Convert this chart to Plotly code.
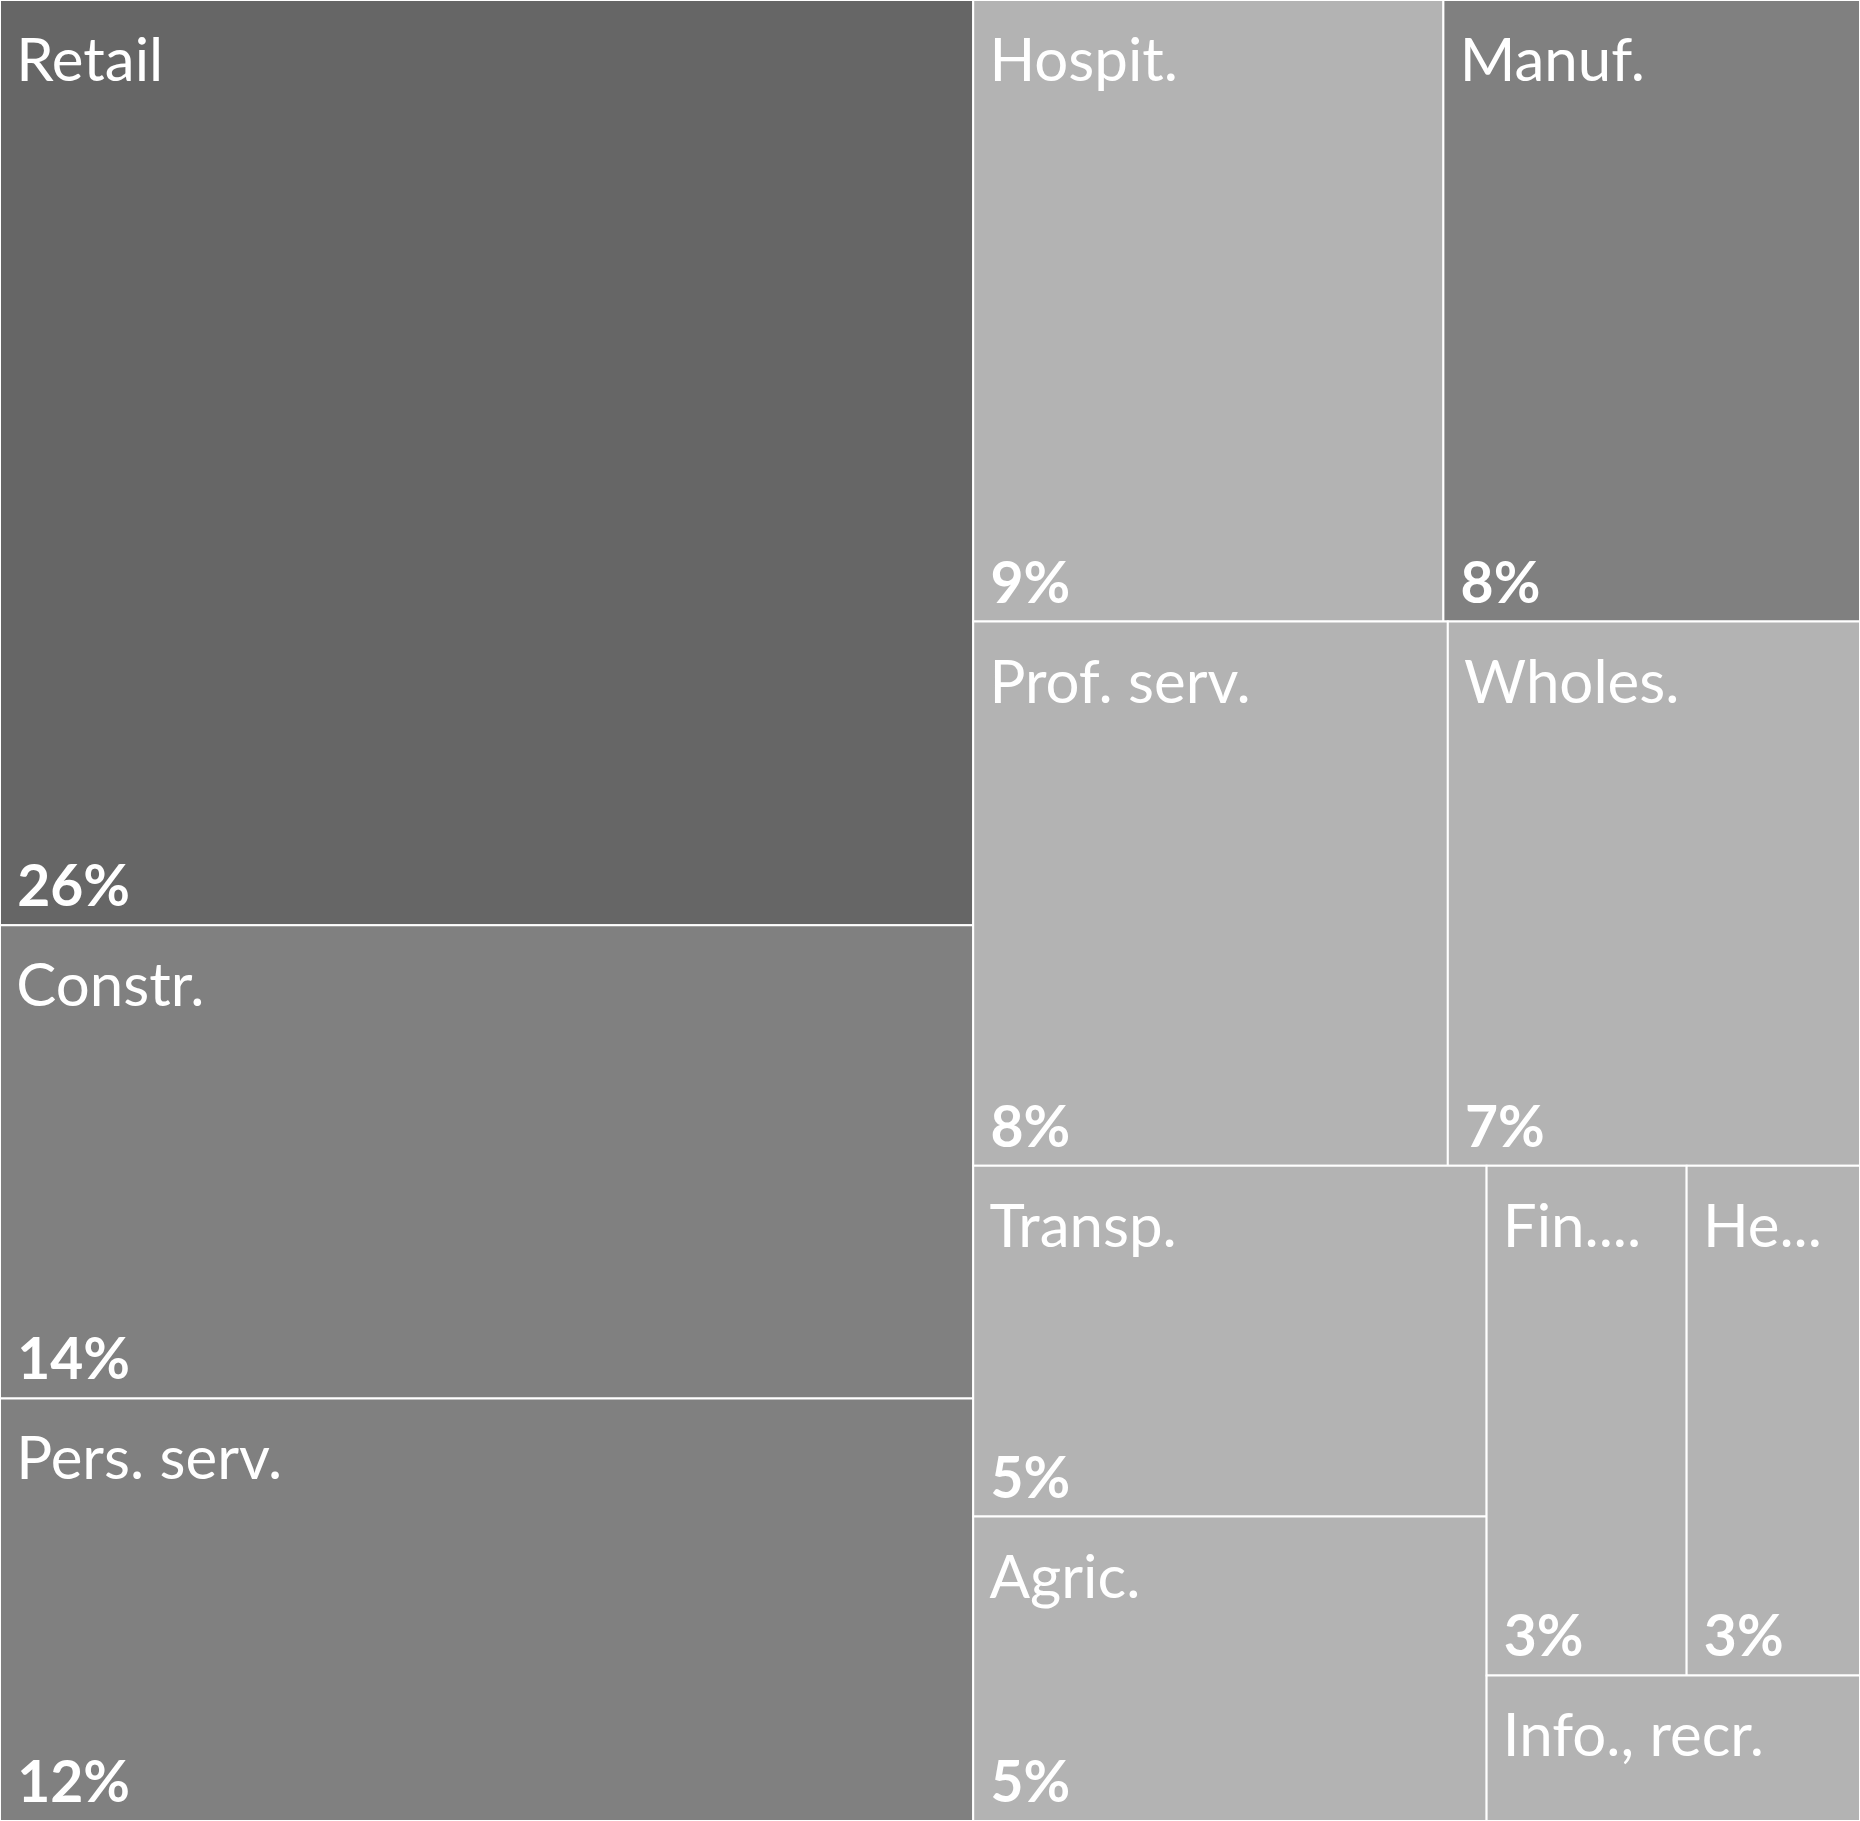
import plotly.graph_objects as go

# Data (shares)
categories = ["Retail", "Constr.", "Pers. serv.", "Hospit.", "Manuf.", "Prof. serv.",
              "Wholes.", "Transp.", "Agric.", "Fin....", "He...", "Info., recr."]
shares = [26.5, 13.55, 12.1, 8.6, 7.62, 7.6, 6.6, 5.3, 4.6, 3.0, 2.6, 1.6]
pct_labels = ["26%", "14%", "12%", "9%", "8%", "8%", "7%", "5%", "5%", "3%", "3%", ""]
colors = ["#666666", "#808080", "#808080", "#b3b3b3", "#808080", "#b3b3b3",
          "#b3b3b3", "#b3b3b3", "#b3b3b3", "#b3b3b3", "#b3b3b3", "#b3b3b3"]

parents = [""] * len(categories)
FONT = "Lato"
PHI = 1.618033988749895
NOPAD = dict(t=0, l=0, r=0, b=0)
NBSP = "\u00a0"

fig = go.Figure()
# category names, top-left of each tile
fig.add_trace(go.Treemap(
    labels=categories, parents=parents, values=shares,
    marker=dict(colors=colors, line=dict(color="white", width=2), pad=NOPAD),
    textposition="top left",
    texttemplate="<span style='font-size:79px;letter-spacing:-7px'>" + NBSP + "</span>%{label}",
    textfont=dict(family=FONT, size=60, color="white"),
    tiling=dict(packing="squarify", squarifyratio=PHI, pad=0),
    pathbar=dict(visible=False),
    hoverinfo="none", text=pct_labels,
    sort=True,
    domain=dict(x=[0, 1], y=[0, 1]),
))
# percentages, bottom-left of each tile
fig.add_trace(go.Treemap(
    labels=categories, parents=parents, values=shares,
    marker=dict(colors=["rgba(0,0,0,0)"] * len(categories), line=dict(width=0), pad=NOPAD),
    textposition="bottom left",
    text=pct_labels,
    texttemplate="<span style='font-size:75px;letter-spacing:-5px'>" + NBSP + "</span><b>%{text}</b>",
    textfont=dict(family=FONT, size=57, color="white"),
    tiling=dict(packing="squarify", squarifyratio=PHI, pad=0),
    pathbar=dict(visible=False),
    hoverinfo="none",
    sort=True,
    domain=dict(x=[0, 1], y=[0, 1]),
))
fig.update_layout(
    width=1860, height=1821,
    margin=dict(l=0, r=0, t=0, b=0),
    paper_bgcolor="white",
    showlegend=False,
    hovermode=False,
)
fig.write_html(
    "out.html",
    config={"displayModeBar": False, "staticPlot": True},
    post_script="document.body.style.margin='0';",
)
